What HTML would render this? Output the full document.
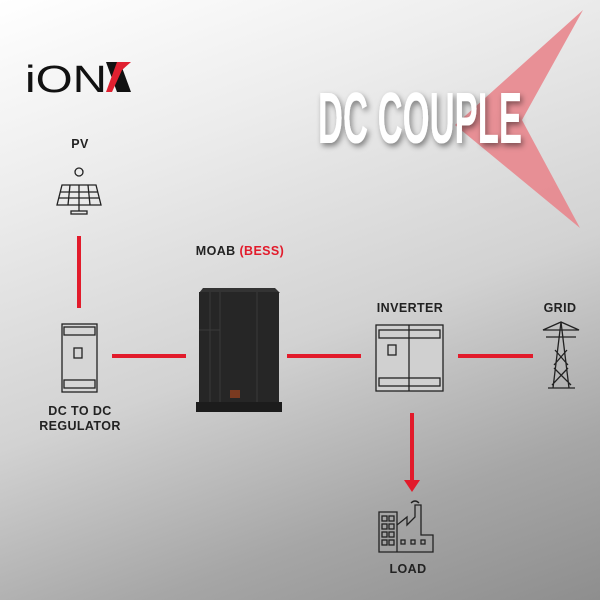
<!DOCTYPE html>
<html><head><style>
body{margin:0}
#c{position:relative;width:600px;height:600px;overflow:hidden;background:linear-gradient(160deg,#ffffff 0%,#ececec 25%,#d2d2d2 55%,#a6a6a6 80%,#8e8e8e 100%);font-family:"Liberation Sans",sans-serif}
.l{position:absolute;font-weight:bold;font-size:12.5px;color:#222;text-align:center;letter-spacing:0.4px}
</style></head><body><div id="c">
<svg width="600" height="600" style="position:absolute;left:0;top:0">
<defs><filter id="sh"><feDropShadow dx="2" dy="3" stdDeviation="3" flood-color="#000" flood-opacity="0.45"/></filter></defs>
<polygon points="583,10 455,125 580,228 522,120" fill="#e8868d" opacity="0.9"/>
<text x="318" y="143" font-family="Liberation Sans Narrow, Liberation Sans, sans-serif" font-weight="bold" font-size="72" fill="#fff" filter="url(#sh)" textLength="204" lengthAdjust="spacingAndGlyphs">DC COUPLE</text>
<text x="25" y="92" font-family="Liberation Sans, sans-serif" font-size="38" fill="#111" textLength="82" lengthAdjust="spacingAndGlyphs">iON</text>
<polygon points="106,62 120,62 131,92 117,92" fill="#111"/>
<polygon points="131,62 117,62 106,92 112,92 122,70" fill="#e02030"/>
<g stroke="#e21b2b" stroke-width="4" fill="none">
<line x1="79" y1="236" x2="79" y2="308"/>
<line x1="112" y1="356" x2="186" y2="356"/>
<line x1="287" y1="356" x2="361" y2="356"/>
<line x1="458" y1="356" x2="533" y2="356"/>
<line x1="412" y1="413" x2="412" y2="482"/>
</g>
<polygon points="404,480 420,480 412,492" fill="#e21b2b"/>
<g stroke="#222" stroke-width="1.3" fill="none">
<circle cx="79" cy="172" r="4"/>
<polygon points="62,185 96,185 101,205 57,205"/>
<line x1="60" y1="192" x2="98" y2="192"/><line x1="59" y1="198" x2="99" y2="198"/>
<line x1="70" y1="185" x2="68" y2="205"/><line x1="79" y1="185" x2="79" y2="205"/><line x1="88" y1="185" x2="90" y2="205"/>
<line x1="79" y1="205" x2="79" y2="211"/><rect x="71" y="211" width="16" height="3"/>
<rect x="62" y="324" width="35" height="68" fill="#d6d6d6"/>
<rect x="64" y="327" width="31" height="8"/><rect x="64" y="380" width="31" height="8"/>
<rect x="74" y="348" width="8" height="10"/>
<rect x="376" y="325" width="67" height="66" fill="#d0d0d0"/>
<rect x="379" y="330" width="61" height="8"/><rect x="379" y="378" width="61" height="8"/>
<line x1="409" y1="325" x2="409" y2="391"/>
<rect x="388" y="345" width="8" height="10"/>
<path d="M561 322 L553 388 M561 322 L569 388 M548 388 L575 388 M543 330 L579 330 L561 322 Z M546 337 L576 337 M555 350 L568 365 M567 350 L554 365 M554 368 L571 385 M568 368 L552 385"/>
<path d="M379 512 h18 v40 h-18 z M397 552 V525 l10 -8 v8 l8 -8 v-12 h6 v30 h12 v17 h-36"/>
<path d="M411 503 q4 -4 8 0"/>
<rect x="382" y="516" width="5" height="5"/><rect x="389" y="516" width="5" height="5"/>
<rect x="382" y="524" width="5" height="5"/><rect x="389" y="524" width="5" height="5"/>
<rect x="382" y="532" width="5" height="5"/><rect x="389" y="532" width="5" height="5"/>
<rect x="382" y="540" width="5" height="5"/><rect x="389" y="540" width="5" height="5"/>
<rect x="401" y="540" width="4" height="4"/><rect x="411" y="540" width="4" height="4"/><rect x="421" y="540" width="4" height="4"/>
</g>
<polygon points="203,288 275,288 280,293 199,293" fill="#333"/>
<rect x="199" y="292" width="80" height="113" fill="#262626"/>
<rect x="196" y="402" width="86" height="10" fill="#1c1c1c"/>
<g stroke="#3a3a3a" stroke-width="1">
<line x1="210" y1="292" x2="210" y2="402"/><line x1="220" y1="292" x2="220" y2="402"/><line x1="257" y1="292" x2="257" y2="402"/>
<line x1="199" y1="330" x2="220" y2="330"/>
</g>
<rect x="230" y="390" width="10" height="8" fill="#7a3a20"/>
</svg>
<div class="l" style="left:60px;top:137px;width:40px">PV</div>
<div class="l" style="left:20px;top:404px;width:120px;line-height:15px">DC TO DC<br>REGULATOR</div>
<div class="l" style="left:180px;top:244px;width:120px">MOAB <span style="color:#e21b2b">(BESS)</span></div>
<div class="l" style="left:350px;top:301px;width:120px">INVERTER</div>
<div class="l" style="left:520px;top:301px;width:80px">GRID</div>
<div class="l" style="left:368px;top:562px;width:80px">LOAD</div>
</div></body></html>
